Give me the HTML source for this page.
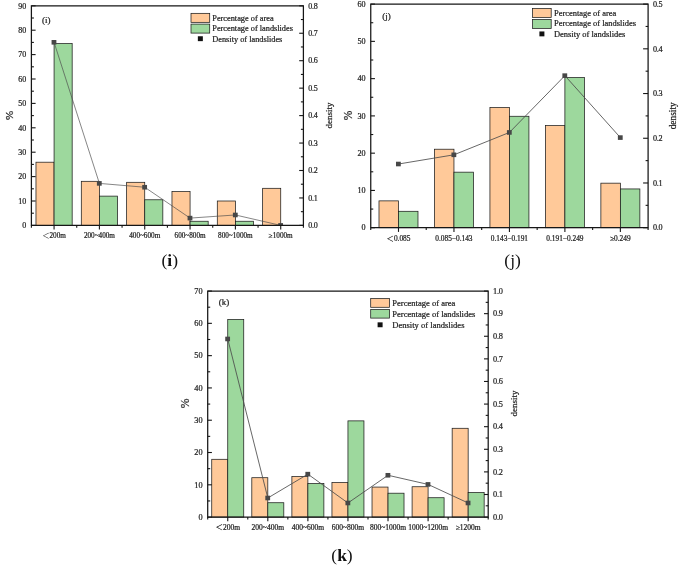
<!DOCTYPE html>
<html lang="en"><head><meta charset="utf-8"><title>Landslide statistics (i)-(k)</title>
<style>html,body{margin:0;padding:0;background:#fff;}svg{display:block;}</style></head>
<body>
<svg width="685" height="565" viewBox="0 0 685 565">
<rect width="685" height="565" fill="#ffffff"/>
<clipPath id="clip1"><rect x="31.40" y="5.80" width="272.00" height="219.60"/></clipPath>
<rect x="35.97" y="162.20" width="18.10" height="63.20" fill="#FFC999" stroke="#1c1c1c" stroke-width="0.75"/>
<rect x="54.07" y="43.62" width="18.10" height="181.78" fill="#9DD89D" stroke="#1c1c1c" stroke-width="0.75"/>
<rect x="81.30" y="181.31" width="18.10" height="44.09" fill="#FFC999" stroke="#1c1c1c" stroke-width="0.75"/>
<rect x="99.40" y="196.12" width="18.10" height="29.28" fill="#9DD89D" stroke="#1c1c1c" stroke-width="0.75"/>
<rect x="126.63" y="182.31" width="18.10" height="43.09" fill="#FFC999" stroke="#1c1c1c" stroke-width="0.75"/>
<rect x="144.73" y="199.78" width="18.10" height="25.62" fill="#9DD89D" stroke="#1c1c1c" stroke-width="0.75"/>
<rect x="171.97" y="191.61" width="18.10" height="33.79" fill="#FFC999" stroke="#1c1c1c" stroke-width="0.75"/>
<rect x="190.07" y="221.25" width="18.10" height="4.15" fill="#9DD89D" stroke="#1c1c1c" stroke-width="0.75"/>
<rect x="217.30" y="201.00" width="18.10" height="24.40" fill="#FFC999" stroke="#1c1c1c" stroke-width="0.75"/>
<rect x="235.40" y="221.25" width="18.10" height="4.15" fill="#9DD89D" stroke="#1c1c1c" stroke-width="0.75"/>
<rect x="262.63" y="188.31" width="18.10" height="37.09" fill="#FFC999" stroke="#1c1c1c" stroke-width="0.75"/>
<g clip-path="url(#clip1)">
<polyline points="54.07,42.31 99.40,183.40 144.73,187.24 190.07,218.10 235.40,214.97 280.73,225.40" fill="none" stroke="#4c4c4c" stroke-width="0.68"/>
<rect x="51.57" y="40.01" width="4.8" height="4.6" fill="#474747"/>
<rect x="96.90" y="181.10" width="4.8" height="4.6" fill="#474747"/>
<rect x="142.23" y="184.94" width="4.8" height="4.6" fill="#474747"/>
<rect x="187.57" y="215.80" width="4.8" height="4.6" fill="#474747"/>
<rect x="232.90" y="212.67" width="4.8" height="4.6" fill="#474747"/>
<rect x="278.23" y="223.10" width="4.8" height="4.6" fill="#474747"/>
</g>
<path d="M31.40,225.40 V5.80 H303.40 V225.40 Z" fill="none" stroke="#161616" stroke-width="1.25"/>
<line x1="31.40" x2="35.60" y1="225.40" y2="225.40" stroke="#161616" stroke-width="1.1"/>
<text x="26.30" y="228.15" text-anchor="end" font-family="Liberation Serif, Noto Serif CJK SC, serif" font-size="8" fill="#222" stroke="#222" stroke-width="0.22">0</text>
<line x1="31.40" x2="33.90" y1="213.20" y2="213.20" stroke="#161616" stroke-width="1.1"/>
<line x1="31.40" x2="35.60" y1="201.00" y2="201.00" stroke="#161616" stroke-width="1.1"/>
<text x="26.30" y="203.75" text-anchor="end" font-family="Liberation Serif, Noto Serif CJK SC, serif" font-size="8" fill="#222" stroke="#222" stroke-width="0.22">10</text>
<line x1="31.40" x2="33.90" y1="188.80" y2="188.80" stroke="#161616" stroke-width="1.1"/>
<line x1="31.40" x2="35.60" y1="176.60" y2="176.60" stroke="#161616" stroke-width="1.1"/>
<text x="26.30" y="179.35" text-anchor="end" font-family="Liberation Serif, Noto Serif CJK SC, serif" font-size="8" fill="#222" stroke="#222" stroke-width="0.22">20</text>
<line x1="31.40" x2="33.90" y1="164.40" y2="164.40" stroke="#161616" stroke-width="1.1"/>
<line x1="31.40" x2="35.60" y1="152.20" y2="152.20" stroke="#161616" stroke-width="1.1"/>
<text x="26.30" y="154.95" text-anchor="end" font-family="Liberation Serif, Noto Serif CJK SC, serif" font-size="8" fill="#222" stroke="#222" stroke-width="0.22">30</text>
<line x1="31.40" x2="33.90" y1="140.00" y2="140.00" stroke="#161616" stroke-width="1.1"/>
<line x1="31.40" x2="35.60" y1="127.80" y2="127.80" stroke="#161616" stroke-width="1.1"/>
<text x="26.30" y="130.55" text-anchor="end" font-family="Liberation Serif, Noto Serif CJK SC, serif" font-size="8" fill="#222" stroke="#222" stroke-width="0.22">40</text>
<line x1="31.40" x2="33.90" y1="115.60" y2="115.60" stroke="#161616" stroke-width="1.1"/>
<line x1="31.40" x2="35.60" y1="103.40" y2="103.40" stroke="#161616" stroke-width="1.1"/>
<text x="26.30" y="106.15" text-anchor="end" font-family="Liberation Serif, Noto Serif CJK SC, serif" font-size="8" fill="#222" stroke="#222" stroke-width="0.22">50</text>
<line x1="31.40" x2="33.90" y1="91.20" y2="91.20" stroke="#161616" stroke-width="1.1"/>
<line x1="31.40" x2="35.60" y1="79.00" y2="79.00" stroke="#161616" stroke-width="1.1"/>
<text x="26.30" y="81.75" text-anchor="end" font-family="Liberation Serif, Noto Serif CJK SC, serif" font-size="8" fill="#222" stroke="#222" stroke-width="0.22">60</text>
<line x1="31.40" x2="33.90" y1="66.80" y2="66.80" stroke="#161616" stroke-width="1.1"/>
<line x1="31.40" x2="35.60" y1="54.60" y2="54.60" stroke="#161616" stroke-width="1.1"/>
<text x="26.30" y="57.35" text-anchor="end" font-family="Liberation Serif, Noto Serif CJK SC, serif" font-size="8" fill="#222" stroke="#222" stroke-width="0.22">70</text>
<line x1="31.40" x2="33.90" y1="42.40" y2="42.40" stroke="#161616" stroke-width="1.1"/>
<line x1="31.40" x2="35.60" y1="30.20" y2="30.20" stroke="#161616" stroke-width="1.1"/>
<text x="26.30" y="32.95" text-anchor="end" font-family="Liberation Serif, Noto Serif CJK SC, serif" font-size="8" fill="#222" stroke="#222" stroke-width="0.22">80</text>
<line x1="31.40" x2="33.90" y1="18.00" y2="18.00" stroke="#161616" stroke-width="1.1"/>
<line x1="31.40" x2="35.60" y1="5.80" y2="5.80" stroke="#161616" stroke-width="1.1"/>
<text x="26.30" y="8.55" text-anchor="end" font-family="Liberation Serif, Noto Serif CJK SC, serif" font-size="8" fill="#222" stroke="#222" stroke-width="0.22">90</text>
<line x1="303.40" x2="299.20" y1="225.40" y2="225.40" stroke="#161616" stroke-width="1.1"/>
<text x="308.20" y="228.15" font-family="Liberation Serif, Noto Serif CJK SC, serif" font-size="8" letter-spacing="-0.2" fill="#222" stroke="#222" stroke-width="0.22">0.0</text>
<line x1="303.40" x2="300.90" y1="211.68" y2="211.68" stroke="#161616" stroke-width="1.1"/>
<line x1="303.40" x2="299.20" y1="197.95" y2="197.95" stroke="#161616" stroke-width="1.1"/>
<text x="308.20" y="200.70" font-family="Liberation Serif, Noto Serif CJK SC, serif" font-size="8" letter-spacing="-0.2" fill="#222" stroke="#222" stroke-width="0.22">0.1</text>
<line x1="303.40" x2="300.90" y1="184.22" y2="184.22" stroke="#161616" stroke-width="1.1"/>
<line x1="303.40" x2="299.20" y1="170.50" y2="170.50" stroke="#161616" stroke-width="1.1"/>
<text x="308.20" y="173.25" font-family="Liberation Serif, Noto Serif CJK SC, serif" font-size="8" letter-spacing="-0.2" fill="#222" stroke="#222" stroke-width="0.22">0.2</text>
<line x1="303.40" x2="300.90" y1="156.78" y2="156.78" stroke="#161616" stroke-width="1.1"/>
<line x1="303.40" x2="299.20" y1="143.05" y2="143.05" stroke="#161616" stroke-width="1.1"/>
<text x="308.20" y="145.80" font-family="Liberation Serif, Noto Serif CJK SC, serif" font-size="8" letter-spacing="-0.2" fill="#222" stroke="#222" stroke-width="0.22">0.3</text>
<line x1="303.40" x2="300.90" y1="129.32" y2="129.32" stroke="#161616" stroke-width="1.1"/>
<line x1="303.40" x2="299.20" y1="115.60" y2="115.60" stroke="#161616" stroke-width="1.1"/>
<text x="308.20" y="118.35" font-family="Liberation Serif, Noto Serif CJK SC, serif" font-size="8" letter-spacing="-0.2" fill="#222" stroke="#222" stroke-width="0.22">0.4</text>
<line x1="303.40" x2="300.90" y1="101.88" y2="101.88" stroke="#161616" stroke-width="1.1"/>
<line x1="303.40" x2="299.20" y1="88.15" y2="88.15" stroke="#161616" stroke-width="1.1"/>
<text x="308.20" y="90.90" font-family="Liberation Serif, Noto Serif CJK SC, serif" font-size="8" letter-spacing="-0.2" fill="#222" stroke="#222" stroke-width="0.22">0.5</text>
<line x1="303.40" x2="300.90" y1="74.43" y2="74.43" stroke="#161616" stroke-width="1.1"/>
<line x1="303.40" x2="299.20" y1="60.70" y2="60.70" stroke="#161616" stroke-width="1.1"/>
<text x="308.20" y="63.45" font-family="Liberation Serif, Noto Serif CJK SC, serif" font-size="8" letter-spacing="-0.2" fill="#222" stroke="#222" stroke-width="0.22">0.6</text>
<line x1="303.40" x2="300.90" y1="46.97" y2="46.97" stroke="#161616" stroke-width="1.1"/>
<line x1="303.40" x2="299.20" y1="33.25" y2="33.25" stroke="#161616" stroke-width="1.1"/>
<text x="308.20" y="36.00" font-family="Liberation Serif, Noto Serif CJK SC, serif" font-size="8" letter-spacing="-0.2" fill="#222" stroke="#222" stroke-width="0.22">0.7</text>
<line x1="303.40" x2="300.90" y1="19.52" y2="19.52" stroke="#161616" stroke-width="1.1"/>
<line x1="303.40" x2="299.20" y1="5.80" y2="5.80" stroke="#161616" stroke-width="1.1"/>
<text x="308.20" y="8.55" font-family="Liberation Serif, Noto Serif CJK SC, serif" font-size="8" letter-spacing="-0.2" fill="#222" stroke="#222" stroke-width="0.22">0.8</text>
<line x1="31.40" x2="31.40" y1="225.40" y2="227.70" stroke="#161616" stroke-width="1.1"/>
<line x1="76.73" x2="76.73" y1="225.40" y2="227.70" stroke="#161616" stroke-width="1.1"/>
<line x1="122.07" x2="122.07" y1="225.40" y2="227.70" stroke="#161616" stroke-width="1.1"/>
<line x1="167.40" x2="167.40" y1="225.40" y2="227.70" stroke="#161616" stroke-width="1.1"/>
<line x1="212.73" x2="212.73" y1="225.40" y2="227.70" stroke="#161616" stroke-width="1.1"/>
<line x1="258.07" x2="258.07" y1="225.40" y2="227.70" stroke="#161616" stroke-width="1.1"/>
<line x1="303.40" x2="303.40" y1="225.40" y2="227.70" stroke="#161616" stroke-width="1.1"/>
<line x1="54.07" x2="54.07" y1="225.40" y2="229.60" stroke="#161616" stroke-width="1.1"/>
<text x="54.07" y="238.30" text-anchor="middle" font-family="Liberation Serif, Noto Serif CJK SC, serif" font-size="7.2" fill="#222" stroke="#222" stroke-width="0.22">＜200m</text>
<line x1="99.40" x2="99.40" y1="225.40" y2="229.60" stroke="#161616" stroke-width="1.1"/>
<text x="99.40" y="238.30" text-anchor="middle" font-family="Liberation Serif, Noto Serif CJK SC, serif" font-size="7.2" fill="#222" stroke="#222" stroke-width="0.22">200~400m</text>
<line x1="144.73" x2="144.73" y1="225.40" y2="229.60" stroke="#161616" stroke-width="1.1"/>
<text x="144.73" y="238.30" text-anchor="middle" font-family="Liberation Serif, Noto Serif CJK SC, serif" font-size="7.2" fill="#222" stroke="#222" stroke-width="0.22">400~600m</text>
<line x1="190.07" x2="190.07" y1="225.40" y2="229.60" stroke="#161616" stroke-width="1.1"/>
<text x="190.07" y="238.30" text-anchor="middle" font-family="Liberation Serif, Noto Serif CJK SC, serif" font-size="7.2" fill="#222" stroke="#222" stroke-width="0.22">600~800m</text>
<line x1="235.40" x2="235.40" y1="225.40" y2="229.60" stroke="#161616" stroke-width="1.1"/>
<text x="235.40" y="238.30" text-anchor="middle" font-family="Liberation Serif, Noto Serif CJK SC, serif" font-size="7.2" fill="#222" stroke="#222" stroke-width="0.22">800~1000m</text>
<line x1="280.73" x2="280.73" y1="225.40" y2="229.60" stroke="#161616" stroke-width="1.1"/>
<text x="280.73" y="238.30" text-anchor="middle" font-family="Liberation Serif, Noto Serif CJK SC, serif" font-size="7.2" fill="#222" stroke="#222" stroke-width="0.22">≥1000m</text>
<text transform="translate(13.3,115.4) rotate(-90)" text-anchor="middle" font-family="Liberation Serif, Noto Serif CJK SC, serif" font-size="11" fill="#222" stroke="#222" stroke-width="0.22">%</text>
<text transform="translate(331.6,115.6) rotate(-90)" text-anchor="middle" font-family="Liberation Serif, Noto Serif CJK SC, serif" font-size="9" fill="#222" stroke="#222" stroke-width="0.22">density</text>
<text x="42" y="23.2" font-family="Liberation Serif, Noto Serif CJK SC, serif" font-size="9" fill="#222" stroke="#222" stroke-width="0.22">(i)</text>
<rect x="191.00" y="13.35" width="18.70" height="9.00" fill="#FFC999" stroke="#1c1c1c" stroke-width="0.75"/>
<rect x="191.00" y="24.10" width="18.70" height="9.00" fill="#9DD89D" stroke="#1c1c1c" stroke-width="0.75"/>
<rect x="197.85" y="36.25" width="5" height="4.9" fill="#111"/>
<text x="212.30" y="21.00" font-family="Liberation Serif, Noto Serif CJK SC, serif" font-size="8.3" fill="#222" stroke="#222" stroke-width="0.22">Percentage of area</text>
<text x="212.30" y="30.60" font-family="Liberation Serif, Noto Serif CJK SC, serif" font-size="8.3" fill="#222" stroke="#222" stroke-width="0.22">Percentage of landslides</text>
<text x="212.30" y="41.50" font-family="Liberation Serif, Noto Serif CJK SC, serif" font-size="8.3" fill="#222" stroke="#222" stroke-width="0.22">Density of landslides</text>
<text x="169.8" y="265.7" text-anchor="middle" font-family="Liberation Serif, Noto Serif CJK SC, serif" font-size="17.5" fill="#111">(<tspan font-weight="bold">i</tspan>)</text>
<clipPath id="clip2"><rect x="370.75" y="4.10" width="277.35" height="223.60"/></clipPath>
<rect x="378.99" y="200.87" width="19.50" height="26.83" fill="#FFC999" stroke="#1c1c1c" stroke-width="0.75"/>
<rect x="398.49" y="211.30" width="19.50" height="16.40" fill="#9DD89D" stroke="#1c1c1c" stroke-width="0.75"/>
<rect x="434.46" y="149.22" width="19.50" height="78.48" fill="#FFC999" stroke="#1c1c1c" stroke-width="0.75"/>
<rect x="453.96" y="172.17" width="19.50" height="55.53" fill="#9DD89D" stroke="#1c1c1c" stroke-width="0.75"/>
<rect x="489.93" y="107.52" width="19.50" height="120.18" fill="#FFC999" stroke="#1c1c1c" stroke-width="0.75"/>
<rect x="509.43" y="116.27" width="19.50" height="111.43" fill="#9DD89D" stroke="#1c1c1c" stroke-width="0.75"/>
<rect x="545.39" y="125.59" width="19.50" height="102.11" fill="#FFC999" stroke="#1c1c1c" stroke-width="0.75"/>
<rect x="564.89" y="77.52" width="19.50" height="150.18" fill="#9DD89D" stroke="#1c1c1c" stroke-width="0.75"/>
<rect x="600.87" y="183.17" width="19.50" height="44.53" fill="#FFC999" stroke="#1c1c1c" stroke-width="0.75"/>
<rect x="620.37" y="188.94" width="19.50" height="38.76" fill="#9DD89D" stroke="#1c1c1c" stroke-width="0.75"/>
<g clip-path="url(#clip2)">
<polyline points="398.49,164.02 453.96,154.81 509.43,132.45 564.89,75.65 620.37,137.59" fill="none" stroke="#4c4c4c" stroke-width="0.85"/>
<rect x="395.99" y="161.72" width="4.8" height="4.6" fill="#474747"/>
<rect x="451.46" y="152.51" width="4.8" height="4.6" fill="#474747"/>
<rect x="506.93" y="130.15" width="4.8" height="4.6" fill="#474747"/>
<rect x="562.39" y="73.35" width="4.8" height="4.6" fill="#474747"/>
<rect x="617.87" y="135.29" width="4.8" height="4.6" fill="#474747"/>
</g>
<path d="M370.75,227.70 V4.10 H648.10 V227.70 Z" fill="none" stroke="#161616" stroke-width="1.25"/>
<line x1="370.75" x2="374.95" y1="227.70" y2="227.70" stroke="#161616" stroke-width="1.1"/>
<text x="365.65" y="230.45" text-anchor="end" font-family="Liberation Serif, Noto Serif CJK SC, serif" font-size="8.15" fill="#222" stroke="#222" stroke-width="0.22">0</text>
<line x1="370.75" x2="373.25" y1="209.07" y2="209.07" stroke="#161616" stroke-width="1.1"/>
<line x1="370.75" x2="374.95" y1="190.43" y2="190.43" stroke="#161616" stroke-width="1.1"/>
<text x="365.65" y="193.18" text-anchor="end" font-family="Liberation Serif, Noto Serif CJK SC, serif" font-size="8.15" fill="#222" stroke="#222" stroke-width="0.22">10</text>
<line x1="370.75" x2="373.25" y1="171.80" y2="171.80" stroke="#161616" stroke-width="1.1"/>
<line x1="370.75" x2="374.95" y1="153.17" y2="153.17" stroke="#161616" stroke-width="1.1"/>
<text x="365.65" y="155.92" text-anchor="end" font-family="Liberation Serif, Noto Serif CJK SC, serif" font-size="8.15" fill="#222" stroke="#222" stroke-width="0.22">20</text>
<line x1="370.75" x2="373.25" y1="134.53" y2="134.53" stroke="#161616" stroke-width="1.1"/>
<line x1="370.75" x2="374.95" y1="115.90" y2="115.90" stroke="#161616" stroke-width="1.1"/>
<text x="365.65" y="118.65" text-anchor="end" font-family="Liberation Serif, Noto Serif CJK SC, serif" font-size="8.15" fill="#222" stroke="#222" stroke-width="0.22">30</text>
<line x1="370.75" x2="373.25" y1="97.27" y2="97.27" stroke="#161616" stroke-width="1.1"/>
<line x1="370.75" x2="374.95" y1="78.63" y2="78.63" stroke="#161616" stroke-width="1.1"/>
<text x="365.65" y="81.38" text-anchor="end" font-family="Liberation Serif, Noto Serif CJK SC, serif" font-size="8.15" fill="#222" stroke="#222" stroke-width="0.22">40</text>
<line x1="370.75" x2="373.25" y1="60.00" y2="60.00" stroke="#161616" stroke-width="1.1"/>
<line x1="370.75" x2="374.95" y1="41.37" y2="41.37" stroke="#161616" stroke-width="1.1"/>
<text x="365.65" y="44.12" text-anchor="end" font-family="Liberation Serif, Noto Serif CJK SC, serif" font-size="8.15" fill="#222" stroke="#222" stroke-width="0.22">50</text>
<line x1="370.75" x2="373.25" y1="22.73" y2="22.73" stroke="#161616" stroke-width="1.1"/>
<line x1="370.75" x2="374.95" y1="4.10" y2="4.10" stroke="#161616" stroke-width="1.1"/>
<text x="365.65" y="6.85" text-anchor="end" font-family="Liberation Serif, Noto Serif CJK SC, serif" font-size="8.15" fill="#222" stroke="#222" stroke-width="0.22">60</text>
<line x1="648.10" x2="643.10" y1="227.70" y2="227.70" stroke="#161616" stroke-width="1.1"/>
<text x="652.90" y="230.45" font-family="Liberation Serif, Noto Serif CJK SC, serif" font-size="8.15" letter-spacing="-0.2" fill="#222" stroke="#222" stroke-width="0.22">0.0</text>
<line x1="648.10" x2="645.60" y1="205.34" y2="205.34" stroke="#161616" stroke-width="1.1"/>
<line x1="648.10" x2="643.10" y1="182.98" y2="182.98" stroke="#161616" stroke-width="1.1"/>
<text x="652.90" y="185.73" font-family="Liberation Serif, Noto Serif CJK SC, serif" font-size="8.15" letter-spacing="-0.2" fill="#222" stroke="#222" stroke-width="0.22">0.1</text>
<line x1="648.10" x2="645.60" y1="160.62" y2="160.62" stroke="#161616" stroke-width="1.1"/>
<line x1="648.10" x2="643.10" y1="138.26" y2="138.26" stroke="#161616" stroke-width="1.1"/>
<text x="652.90" y="141.01" font-family="Liberation Serif, Noto Serif CJK SC, serif" font-size="8.15" letter-spacing="-0.2" fill="#222" stroke="#222" stroke-width="0.22">0.2</text>
<line x1="648.10" x2="645.60" y1="115.90" y2="115.90" stroke="#161616" stroke-width="1.1"/>
<line x1="648.10" x2="643.10" y1="93.54" y2="93.54" stroke="#161616" stroke-width="1.1"/>
<text x="652.90" y="96.29" font-family="Liberation Serif, Noto Serif CJK SC, serif" font-size="8.15" letter-spacing="-0.2" fill="#222" stroke="#222" stroke-width="0.22">0.3</text>
<line x1="648.10" x2="645.60" y1="71.18" y2="71.18" stroke="#161616" stroke-width="1.1"/>
<line x1="648.10" x2="643.10" y1="48.82" y2="48.82" stroke="#161616" stroke-width="1.1"/>
<text x="652.90" y="51.57" font-family="Liberation Serif, Noto Serif CJK SC, serif" font-size="8.15" letter-spacing="-0.2" fill="#222" stroke="#222" stroke-width="0.22">0.4</text>
<line x1="648.10" x2="645.60" y1="26.46" y2="26.46" stroke="#161616" stroke-width="1.1"/>
<line x1="648.10" x2="643.10" y1="4.10" y2="4.10" stroke="#161616" stroke-width="1.1"/>
<text x="652.90" y="6.85" font-family="Liberation Serif, Noto Serif CJK SC, serif" font-size="8.15" letter-spacing="-0.2" fill="#222" stroke="#222" stroke-width="0.22">0.5</text>
<line x1="370.75" x2="370.75" y1="227.70" y2="230.00" stroke="#161616" stroke-width="1.1"/>
<line x1="426.22" x2="426.22" y1="227.70" y2="230.00" stroke="#161616" stroke-width="1.1"/>
<line x1="481.69" x2="481.69" y1="227.70" y2="230.00" stroke="#161616" stroke-width="1.1"/>
<line x1="537.16" x2="537.16" y1="227.70" y2="230.00" stroke="#161616" stroke-width="1.1"/>
<line x1="592.63" x2="592.63" y1="227.70" y2="230.00" stroke="#161616" stroke-width="1.1"/>
<line x1="648.10" x2="648.10" y1="227.70" y2="230.00" stroke="#161616" stroke-width="1.1"/>
<line x1="398.49" x2="398.49" y1="227.70" y2="231.90" stroke="#161616" stroke-width="1.1"/>
<text x="398.49" y="241.20" text-anchor="middle" font-family="Liberation Serif, Noto Serif CJK SC, serif" font-size="7.35" fill="#222" stroke="#222" stroke-width="0.22">＜0.085</text>
<line x1="453.96" x2="453.96" y1="227.70" y2="231.90" stroke="#161616" stroke-width="1.1"/>
<text x="453.96" y="241.20" text-anchor="middle" font-family="Liberation Serif, Noto Serif CJK SC, serif" font-size="7.35" fill="#222" stroke="#222" stroke-width="0.22">0.085−0.143</text>
<line x1="509.43" x2="509.43" y1="227.70" y2="231.90" stroke="#161616" stroke-width="1.1"/>
<text x="509.43" y="241.20" text-anchor="middle" font-family="Liberation Serif, Noto Serif CJK SC, serif" font-size="7.35" fill="#222" stroke="#222" stroke-width="0.22">0.143−0.191</text>
<line x1="564.89" x2="564.89" y1="227.70" y2="231.90" stroke="#161616" stroke-width="1.1"/>
<text x="564.89" y="241.20" text-anchor="middle" font-family="Liberation Serif, Noto Serif CJK SC, serif" font-size="7.35" fill="#222" stroke="#222" stroke-width="0.22">0.191−0.249</text>
<line x1="620.37" x2="620.37" y1="227.70" y2="231.90" stroke="#161616" stroke-width="1.1"/>
<text x="620.37" y="241.20" text-anchor="middle" font-family="Liberation Serif, Noto Serif CJK SC, serif" font-size="7.35" fill="#222" stroke="#222" stroke-width="0.22">≥0.249</text>
<text transform="translate(352.3,115.4) rotate(-90)" text-anchor="middle" font-family="Liberation Serif, Noto Serif CJK SC, serif" font-size="11.5" fill="#222" stroke="#222" stroke-width="0.22">%</text>
<text transform="translate(676.0,115.8) rotate(-90)" text-anchor="middle" font-family="Liberation Serif, Noto Serif CJK SC, serif" font-size="9.4" fill="#222" stroke="#222" stroke-width="0.22">density</text>
<text x="382.2" y="19.0" font-family="Liberation Serif, Noto Serif CJK SC, serif" font-size="9" fill="#222" stroke="#222" stroke-width="0.22">(j)</text>
<rect x="532.60" y="8.50" width="18.60" height="9.00" fill="#FFC999" stroke="#1c1c1c" stroke-width="0.75"/>
<rect x="532.60" y="19.40" width="18.60" height="9.00" fill="#9DD89D" stroke="#1c1c1c" stroke-width="0.75"/>
<rect x="539.40" y="31.45" width="5" height="4.9" fill="#111"/>
<text x="554.00" y="15.60" font-family="Liberation Serif, Noto Serif CJK SC, serif" font-size="8.45" fill="#222" stroke="#222" stroke-width="0.22">Percentage of area</text>
<text x="554.00" y="26.40" font-family="Liberation Serif, Noto Serif CJK SC, serif" font-size="8.45" fill="#222" stroke="#222" stroke-width="0.22">Percentage of landslides</text>
<text x="554.00" y="36.70" font-family="Liberation Serif, Noto Serif CJK SC, serif" font-size="8.45" fill="#222" stroke="#222" stroke-width="0.22">Density of landslides</text>
<text x="512.6" y="265.9" text-anchor="middle" font-family="Liberation Serif, Noto Serif CJK SC, serif" font-size="17.5" fill="#111">(j)</text>
<clipPath id="clip3"><rect x="207.70" y="291.05" width="280.50" height="226.05"/></clipPath>
<rect x="211.74" y="459.30" width="16.00" height="57.80" fill="#FFC999" stroke="#1c1c1c" stroke-width="0.75"/>
<rect x="227.74" y="319.47" width="16.00" height="197.63" fill="#9DD89D" stroke="#1c1c1c" stroke-width="0.75"/>
<rect x="251.81" y="477.70" width="16.00" height="39.40" fill="#FFC999" stroke="#1c1c1c" stroke-width="0.75"/>
<rect x="267.81" y="502.73" width="16.00" height="14.37" fill="#9DD89D" stroke="#1c1c1c" stroke-width="0.75"/>
<rect x="291.88" y="476.57" width="16.00" height="40.53" fill="#FFC999" stroke="#1c1c1c" stroke-width="0.75"/>
<rect x="307.88" y="483.52" width="16.00" height="33.58" fill="#9DD89D" stroke="#1c1c1c" stroke-width="0.75"/>
<rect x="331.95" y="482.55" width="16.00" height="34.55" fill="#FFC999" stroke="#1c1c1c" stroke-width="0.75"/>
<rect x="347.95" y="420.87" width="16.00" height="96.23" fill="#9DD89D" stroke="#1c1c1c" stroke-width="0.75"/>
<rect x="372.02" y="487.07" width="16.00" height="30.03" fill="#FFC999" stroke="#1c1c1c" stroke-width="0.75"/>
<rect x="388.02" y="493.20" width="16.00" height="23.90" fill="#9DD89D" stroke="#1c1c1c" stroke-width="0.75"/>
<rect x="412.09" y="486.74" width="16.00" height="30.36" fill="#FFC999" stroke="#1c1c1c" stroke-width="0.75"/>
<rect x="428.09" y="497.72" width="16.00" height="19.38" fill="#9DD89D" stroke="#1c1c1c" stroke-width="0.75"/>
<rect x="452.16" y="428.29" width="16.00" height="88.81" fill="#FFC999" stroke="#1c1c1c" stroke-width="0.75"/>
<rect x="468.16" y="492.56" width="16.00" height="24.54" fill="#9DD89D" stroke="#1c1c1c" stroke-width="0.75"/>
<g clip-path="url(#clip3)">
<polyline points="227.74,338.97 267.81,498.00 307.88,474.15 347.95,502.99 388.02,475.28 428.09,484.41 468.16,502.99" fill="none" stroke="#4c4c4c" stroke-width="0.85"/>
<rect x="225.24" y="336.67" width="4.8" height="4.6" fill="#474747"/>
<rect x="265.31" y="495.70" width="4.8" height="4.6" fill="#474747"/>
<rect x="305.38" y="471.85" width="4.8" height="4.6" fill="#474747"/>
<rect x="345.45" y="500.69" width="4.8" height="4.6" fill="#474747"/>
<rect x="385.52" y="472.98" width="4.8" height="4.6" fill="#474747"/>
<rect x="425.59" y="482.11" width="4.8" height="4.6" fill="#474747"/>
<rect x="465.66" y="500.69" width="4.8" height="4.6" fill="#474747"/>
</g>
<path d="M207.70,517.10 V291.05 H488.20 V517.10 Z" fill="none" stroke="#161616" stroke-width="1.25"/>
<line x1="207.70" x2="211.90" y1="517.10" y2="517.10" stroke="#161616" stroke-width="1.1"/>
<text x="202.60" y="519.85" text-anchor="end" font-family="Liberation Serif, Noto Serif CJK SC, serif" font-size="8.3" fill="#222" stroke="#222" stroke-width="0.22">0</text>
<line x1="207.70" x2="210.20" y1="500.95" y2="500.95" stroke="#161616" stroke-width="1.1"/>
<line x1="207.70" x2="211.90" y1="484.81" y2="484.81" stroke="#161616" stroke-width="1.1"/>
<text x="202.60" y="487.56" text-anchor="end" font-family="Liberation Serif, Noto Serif CJK SC, serif" font-size="8.3" fill="#222" stroke="#222" stroke-width="0.22">10</text>
<line x1="207.70" x2="210.20" y1="468.66" y2="468.66" stroke="#161616" stroke-width="1.1"/>
<line x1="207.70" x2="211.90" y1="452.51" y2="452.51" stroke="#161616" stroke-width="1.1"/>
<text x="202.60" y="455.26" text-anchor="end" font-family="Liberation Serif, Noto Serif CJK SC, serif" font-size="8.3" fill="#222" stroke="#222" stroke-width="0.22">20</text>
<line x1="207.70" x2="210.20" y1="436.37" y2="436.37" stroke="#161616" stroke-width="1.1"/>
<line x1="207.70" x2="211.90" y1="420.22" y2="420.22" stroke="#161616" stroke-width="1.1"/>
<text x="202.60" y="422.97" text-anchor="end" font-family="Liberation Serif, Noto Serif CJK SC, serif" font-size="8.3" fill="#222" stroke="#222" stroke-width="0.22">30</text>
<line x1="207.70" x2="210.20" y1="404.08" y2="404.08" stroke="#161616" stroke-width="1.1"/>
<line x1="207.70" x2="211.90" y1="387.93" y2="387.93" stroke="#161616" stroke-width="1.1"/>
<text x="202.60" y="390.68" text-anchor="end" font-family="Liberation Serif, Noto Serif CJK SC, serif" font-size="8.3" fill="#222" stroke="#222" stroke-width="0.22">40</text>
<line x1="207.70" x2="210.20" y1="371.78" y2="371.78" stroke="#161616" stroke-width="1.1"/>
<line x1="207.70" x2="211.90" y1="355.64" y2="355.64" stroke="#161616" stroke-width="1.1"/>
<text x="202.60" y="358.39" text-anchor="end" font-family="Liberation Serif, Noto Serif CJK SC, serif" font-size="8.3" fill="#222" stroke="#222" stroke-width="0.22">50</text>
<line x1="207.70" x2="210.20" y1="339.49" y2="339.49" stroke="#161616" stroke-width="1.1"/>
<line x1="207.70" x2="211.90" y1="323.34" y2="323.34" stroke="#161616" stroke-width="1.1"/>
<text x="202.60" y="326.09" text-anchor="end" font-family="Liberation Serif, Noto Serif CJK SC, serif" font-size="8.3" fill="#222" stroke="#222" stroke-width="0.22">60</text>
<line x1="207.70" x2="210.20" y1="307.20" y2="307.20" stroke="#161616" stroke-width="1.1"/>
<line x1="207.70" x2="211.90" y1="291.05" y2="291.05" stroke="#161616" stroke-width="1.1"/>
<text x="202.60" y="293.80" text-anchor="end" font-family="Liberation Serif, Noto Serif CJK SC, serif" font-size="8.3" fill="#222" stroke="#222" stroke-width="0.22">70</text>
<line x1="488.20" x2="484.00" y1="517.10" y2="517.10" stroke="#161616" stroke-width="1.1"/>
<text x="493.00" y="519.85" font-family="Liberation Serif, Noto Serif CJK SC, serif" font-size="8.3" letter-spacing="-0.2" fill="#222" stroke="#222" stroke-width="0.22">0.0</text>
<line x1="488.20" x2="485.70" y1="505.80" y2="505.80" stroke="#161616" stroke-width="1.1"/>
<line x1="488.20" x2="484.00" y1="494.50" y2="494.50" stroke="#161616" stroke-width="1.1"/>
<text x="493.00" y="497.25" font-family="Liberation Serif, Noto Serif CJK SC, serif" font-size="8.3" letter-spacing="-0.2" fill="#222" stroke="#222" stroke-width="0.22">0.1</text>
<line x1="488.20" x2="485.70" y1="483.19" y2="483.19" stroke="#161616" stroke-width="1.1"/>
<line x1="488.20" x2="484.00" y1="471.89" y2="471.89" stroke="#161616" stroke-width="1.1"/>
<text x="493.00" y="474.64" font-family="Liberation Serif, Noto Serif CJK SC, serif" font-size="8.3" letter-spacing="-0.2" fill="#222" stroke="#222" stroke-width="0.22">0.2</text>
<line x1="488.20" x2="485.70" y1="460.59" y2="460.59" stroke="#161616" stroke-width="1.1"/>
<line x1="488.20" x2="484.00" y1="449.29" y2="449.29" stroke="#161616" stroke-width="1.1"/>
<text x="493.00" y="452.04" font-family="Liberation Serif, Noto Serif CJK SC, serif" font-size="8.3" letter-spacing="-0.2" fill="#222" stroke="#222" stroke-width="0.22">0.3</text>
<line x1="488.20" x2="485.70" y1="437.98" y2="437.98" stroke="#161616" stroke-width="1.1"/>
<line x1="488.20" x2="484.00" y1="426.68" y2="426.68" stroke="#161616" stroke-width="1.1"/>
<text x="493.00" y="429.43" font-family="Liberation Serif, Noto Serif CJK SC, serif" font-size="8.3" letter-spacing="-0.2" fill="#222" stroke="#222" stroke-width="0.22">0.4</text>
<line x1="488.20" x2="485.70" y1="415.38" y2="415.38" stroke="#161616" stroke-width="1.1"/>
<line x1="488.20" x2="484.00" y1="404.08" y2="404.08" stroke="#161616" stroke-width="1.1"/>
<text x="493.00" y="406.83" font-family="Liberation Serif, Noto Serif CJK SC, serif" font-size="8.3" letter-spacing="-0.2" fill="#222" stroke="#222" stroke-width="0.22">0.5</text>
<line x1="488.20" x2="485.70" y1="392.77" y2="392.77" stroke="#161616" stroke-width="1.1"/>
<line x1="488.20" x2="484.00" y1="381.47" y2="381.47" stroke="#161616" stroke-width="1.1"/>
<text x="493.00" y="384.22" font-family="Liberation Serif, Noto Serif CJK SC, serif" font-size="8.3" letter-spacing="-0.2" fill="#222" stroke="#222" stroke-width="0.22">0.6</text>
<line x1="488.20" x2="485.70" y1="370.17" y2="370.17" stroke="#161616" stroke-width="1.1"/>
<line x1="488.20" x2="484.00" y1="358.87" y2="358.87" stroke="#161616" stroke-width="1.1"/>
<text x="493.00" y="361.62" font-family="Liberation Serif, Noto Serif CJK SC, serif" font-size="8.3" letter-spacing="-0.2" fill="#222" stroke="#222" stroke-width="0.22">0.7</text>
<line x1="488.20" x2="485.70" y1="347.56" y2="347.56" stroke="#161616" stroke-width="1.1"/>
<line x1="488.20" x2="484.00" y1="336.26" y2="336.26" stroke="#161616" stroke-width="1.1"/>
<text x="493.00" y="339.01" font-family="Liberation Serif, Noto Serif CJK SC, serif" font-size="8.3" letter-spacing="-0.2" fill="#222" stroke="#222" stroke-width="0.22">0.8</text>
<line x1="488.20" x2="485.70" y1="324.96" y2="324.96" stroke="#161616" stroke-width="1.1"/>
<line x1="488.20" x2="484.00" y1="313.65" y2="313.65" stroke="#161616" stroke-width="1.1"/>
<text x="493.00" y="316.40" font-family="Liberation Serif, Noto Serif CJK SC, serif" font-size="8.3" letter-spacing="-0.2" fill="#222" stroke="#222" stroke-width="0.22">0.9</text>
<line x1="488.20" x2="485.70" y1="302.35" y2="302.35" stroke="#161616" stroke-width="1.1"/>
<line x1="488.20" x2="484.00" y1="291.05" y2="291.05" stroke="#161616" stroke-width="1.1"/>
<text x="493.00" y="293.80" font-family="Liberation Serif, Noto Serif CJK SC, serif" font-size="8.3" letter-spacing="-0.2" fill="#222" stroke="#222" stroke-width="0.22">1.0</text>
<line x1="207.70" x2="207.70" y1="517.10" y2="519.40" stroke="#161616" stroke-width="1.1"/>
<line x1="247.77" x2="247.77" y1="517.10" y2="519.40" stroke="#161616" stroke-width="1.1"/>
<line x1="287.84" x2="287.84" y1="517.10" y2="519.40" stroke="#161616" stroke-width="1.1"/>
<line x1="327.91" x2="327.91" y1="517.10" y2="519.40" stroke="#161616" stroke-width="1.1"/>
<line x1="367.99" x2="367.99" y1="517.10" y2="519.40" stroke="#161616" stroke-width="1.1"/>
<line x1="408.06" x2="408.06" y1="517.10" y2="519.40" stroke="#161616" stroke-width="1.1"/>
<line x1="448.13" x2="448.13" y1="517.10" y2="519.40" stroke="#161616" stroke-width="1.1"/>
<line x1="488.20" x2="488.20" y1="517.10" y2="519.40" stroke="#161616" stroke-width="1.1"/>
<line x1="227.74" x2="227.74" y1="517.10" y2="521.30" stroke="#161616" stroke-width="1.1"/>
<text x="227.74" y="530.30" text-anchor="middle" font-family="Liberation Serif, Noto Serif CJK SC, serif" font-size="7.5" fill="#222" stroke="#222" stroke-width="0.22">＜200m</text>
<line x1="267.81" x2="267.81" y1="517.10" y2="521.30" stroke="#161616" stroke-width="1.1"/>
<text x="267.81" y="530.30" text-anchor="middle" font-family="Liberation Serif, Noto Serif CJK SC, serif" font-size="7.5" fill="#222" stroke="#222" stroke-width="0.22">200~400m</text>
<line x1="307.88" x2="307.88" y1="517.10" y2="521.30" stroke="#161616" stroke-width="1.1"/>
<text x="307.88" y="530.30" text-anchor="middle" font-family="Liberation Serif, Noto Serif CJK SC, serif" font-size="7.5" fill="#222" stroke="#222" stroke-width="0.22">400~600m</text>
<line x1="347.95" x2="347.95" y1="517.10" y2="521.30" stroke="#161616" stroke-width="1.1"/>
<text x="347.95" y="530.30" text-anchor="middle" font-family="Liberation Serif, Noto Serif CJK SC, serif" font-size="7.5" fill="#222" stroke="#222" stroke-width="0.22">600~800m</text>
<line x1="388.02" x2="388.02" y1="517.10" y2="521.30" stroke="#161616" stroke-width="1.1"/>
<text x="388.02" y="530.30" text-anchor="middle" font-family="Liberation Serif, Noto Serif CJK SC, serif" font-size="7.5" fill="#222" stroke="#222" stroke-width="0.22">800~1000m</text>
<line x1="428.09" x2="428.09" y1="517.10" y2="521.30" stroke="#161616" stroke-width="1.1"/>
<text x="428.09" y="530.30" text-anchor="middle" font-family="Liberation Serif, Noto Serif CJK SC, serif" font-size="7.5" fill="#222" stroke="#222" stroke-width="0.22">1000~1200m</text>
<line x1="468.16" x2="468.16" y1="517.10" y2="521.30" stroke="#161616" stroke-width="1.1"/>
<text x="468.16" y="530.30" text-anchor="middle" font-family="Liberation Serif, Noto Serif CJK SC, serif" font-size="7.5" fill="#222" stroke="#222" stroke-width="0.22">≥1200m</text>
<text transform="translate(188.8,403.4) rotate(-90)" text-anchor="middle" font-family="Liberation Serif, Noto Serif CJK SC, serif" font-size="11.6" fill="#222" stroke="#222" stroke-width="0.22">%</text>
<text transform="translate(517.1,403.6) rotate(-90)" text-anchor="middle" font-family="Liberation Serif, Noto Serif CJK SC, serif" font-size="9" fill="#222" stroke="#222" stroke-width="0.22">density</text>
<text x="218.8" y="305.2" font-family="Liberation Serif, Noto Serif CJK SC, serif" font-size="9" fill="#222" stroke="#222" stroke-width="0.22">(k)</text>
<rect x="370.70" y="298.60" width="18.80" height="8.70" fill="#FFC999" stroke="#1c1c1c" stroke-width="0.75"/>
<rect x="370.70" y="309.40" width="18.80" height="8.70" fill="#9DD89D" stroke="#1c1c1c" stroke-width="0.75"/>
<rect x="377.60" y="322.35" width="5" height="4.9" fill="#111"/>
<text x="392.30" y="306.20" font-family="Liberation Serif, Noto Serif CJK SC, serif" font-size="8.55" fill="#222" stroke="#222" stroke-width="0.22">Percentage of area</text>
<text x="392.30" y="316.50" font-family="Liberation Serif, Noto Serif CJK SC, serif" font-size="8.55" fill="#222" stroke="#222" stroke-width="0.22">Percentage of landslides</text>
<text x="392.30" y="327.60" font-family="Liberation Serif, Noto Serif CJK SC, serif" font-size="8.55" fill="#222" stroke="#222" stroke-width="0.22">Density of landslides</text>
<text x="342" y="561.1" text-anchor="middle" font-family="Liberation Serif, Noto Serif CJK SC, serif" font-size="17.5" fill="#111">(<tspan font-weight="bold">k</tspan>)</text>
</svg>
</body></html>
